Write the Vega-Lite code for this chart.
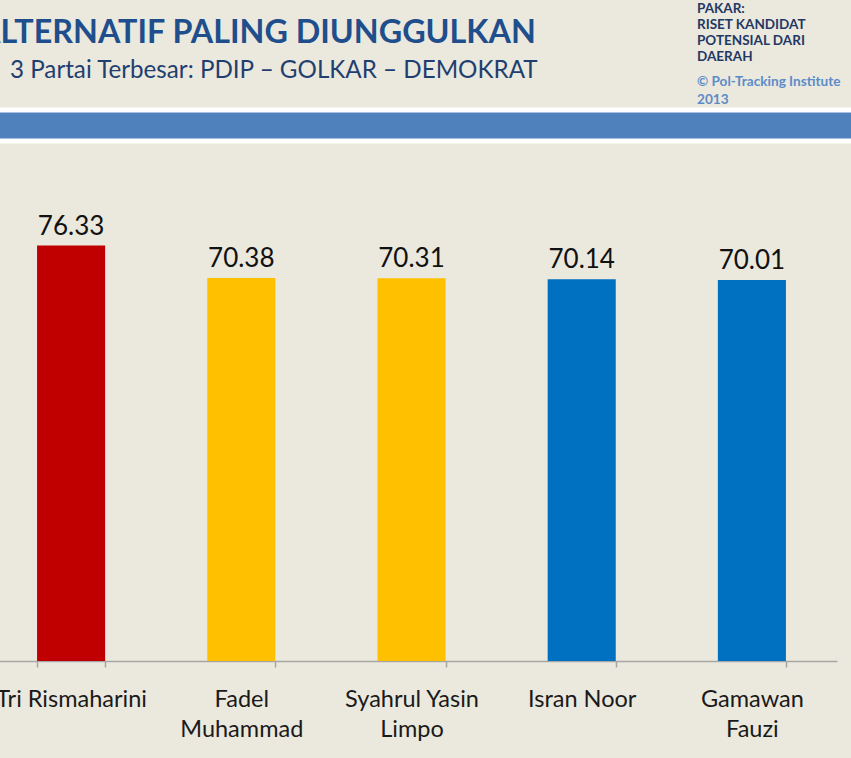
{
  "$schema": "https://vega.github.io/schema/vega-lite/v6.json",
  "background": "#ebe8dd",
  "padding": {"left": -22, "top": 1, "right": -5, "bottom": 19},
  "spacing": 0,
  "config": {
    "view": {"stroke": null},
    "font": "Lato",
    "concat": {"spacing": 0}
  },
  "vconcat": [
    {
      "hconcat": [
        {
          "vconcat": [
            {
              "width": 711, "height": 1,
              "data": {"values": []},
              "mark": "point",
              "title": {
                "text": "ALTERNATIF PALING DIUNGGULKAN",
                "anchor": "start", "frame": "group", "dx": -8, "offset": 8,
                "fontSize": 32.3, "fontWeight": "bold", "color": "#1f4e8c", "font": "Lato"
              }
            },
            {
              "width": 711, "height": 1,
              "data": {"values": []},
              "mark": "point",
              "title": {
                "text": "3 Partai Terbesar: PDIP – GOLKAR – DEMOKRAT",
                "anchor": "start", "frame": "group", "dx": 24, "offset": 19,
                "fontSize": 24.2, "fontWeight": "normal", "color": "#1f3f70", "font": "Lato"
              }
            }
          ],
          "spacing": 0
        },
        {
          "width": 140, "height": 1,
          "data": {"values": []},
          "mark": "point",
          "title": {
            "text": ["PAKAR:", "RISET KANDIDAT", "POTENSIAL DARI", "DAERAH"],
            "subtitle": ["© Pol-Tracking Institute", "2013"],
            "anchor": "start", "frame": "group", "offset": -50,
            "fontSize": 13.5, "fontWeight": "bold", "color": "#1f3864", "lineHeight": 16.3,
            "subtitleFontSize": 13.6, "subtitleFontWeight": "bold", "subtitleColor": "#5b8cc8", "subtitleLineHeight": 18.5, "subtitlePadding": 11,
            "font": "Lato", "subtitleFont": "Lato"
          }
        }
      ],
      "spacing": 0
    },
    {
      "width": 868, "height": 31,
      "data": {"values": []},
      "mark": "point",
      "view": {"fill": "#4f81bd", "stroke": "white", "strokeWidth": 5}
    },
    {
      "width": 851, "height": 517,
      "data": {"values": [
        {"kandidat": "Tri Rismaharini", "nilai": 76.33, "partai": "PDIP"},
        {"kandidat": "Fadel Muhammad", "nilai": 70.38, "partai": "GOLKAR"},
        {"kandidat": "Syahrul Yasin Limpo", "nilai": 70.31, "partai": "GOLKAR"},
        {"kandidat": "Isran Noor", "nilai": 70.14, "partai": "DEMOKRAT"},
        {"kandidat": "Gamawan Fauzi", "nilai": 70.01, "partai": "DEMOKRAT"}
      ]},
      "encoding": {
        "x": {
          "field": "kandidat", "type": "nominal", "sort": null,
          "scale": {"paddingInner": 0.6, "paddingOuter": 0.3},
          "axis": {
            "title": null, "labelAngle": 0, "tickBand": "extent",
            "domainColor": "#a6a6a6", "domainWidth": 1.5,
            "tickColor": "#a6a6a6", "tickSize": 6, "tickWidth": 1.5,
            "labelFontSize": 23.5, "labelColor": "#1a1a1a", "labelLineHeight": 30,
            "labelPadding": 20, "labelOverlap": false, "labelLimit": 300,
            "labelExpr": "datum.value == 'Fadel Muhammad' ? ['Fadel','Muhammad'] : datum.value == 'Syahrul Yasin Limpo' ? ['Syahrul Yasin','Limpo'] : datum.value == 'Gamawan Fauzi' ? ['Gamawan','Fauzi'] : datum.value"
          }
        },
        "y": {"field": "nilai", "type": "quantitative", "scale": {"domain": [0, 95]}, "axis": null}
      },
      "layer": [
        {
          "mark": {"type": "bar"},
          "encoding": {
            "color": {
              "field": "partai", "type": "nominal",
              "scale": {"domain": ["PDIP", "GOLKAR", "DEMOKRAT"], "range": ["#c00000", "#ffc000", "#0070c0"]},
              "legend": null
            }
          }
        },
        {
          "mark": {"type": "text", "baseline": "alphabetic", "dy": -11, "fontSize": 26, "color": "#111111"},
          "encoding": {"text": {"field": "nilai", "type": "quantitative", "format": ".2f"}}
        }
      ]
    }
  ]
}
